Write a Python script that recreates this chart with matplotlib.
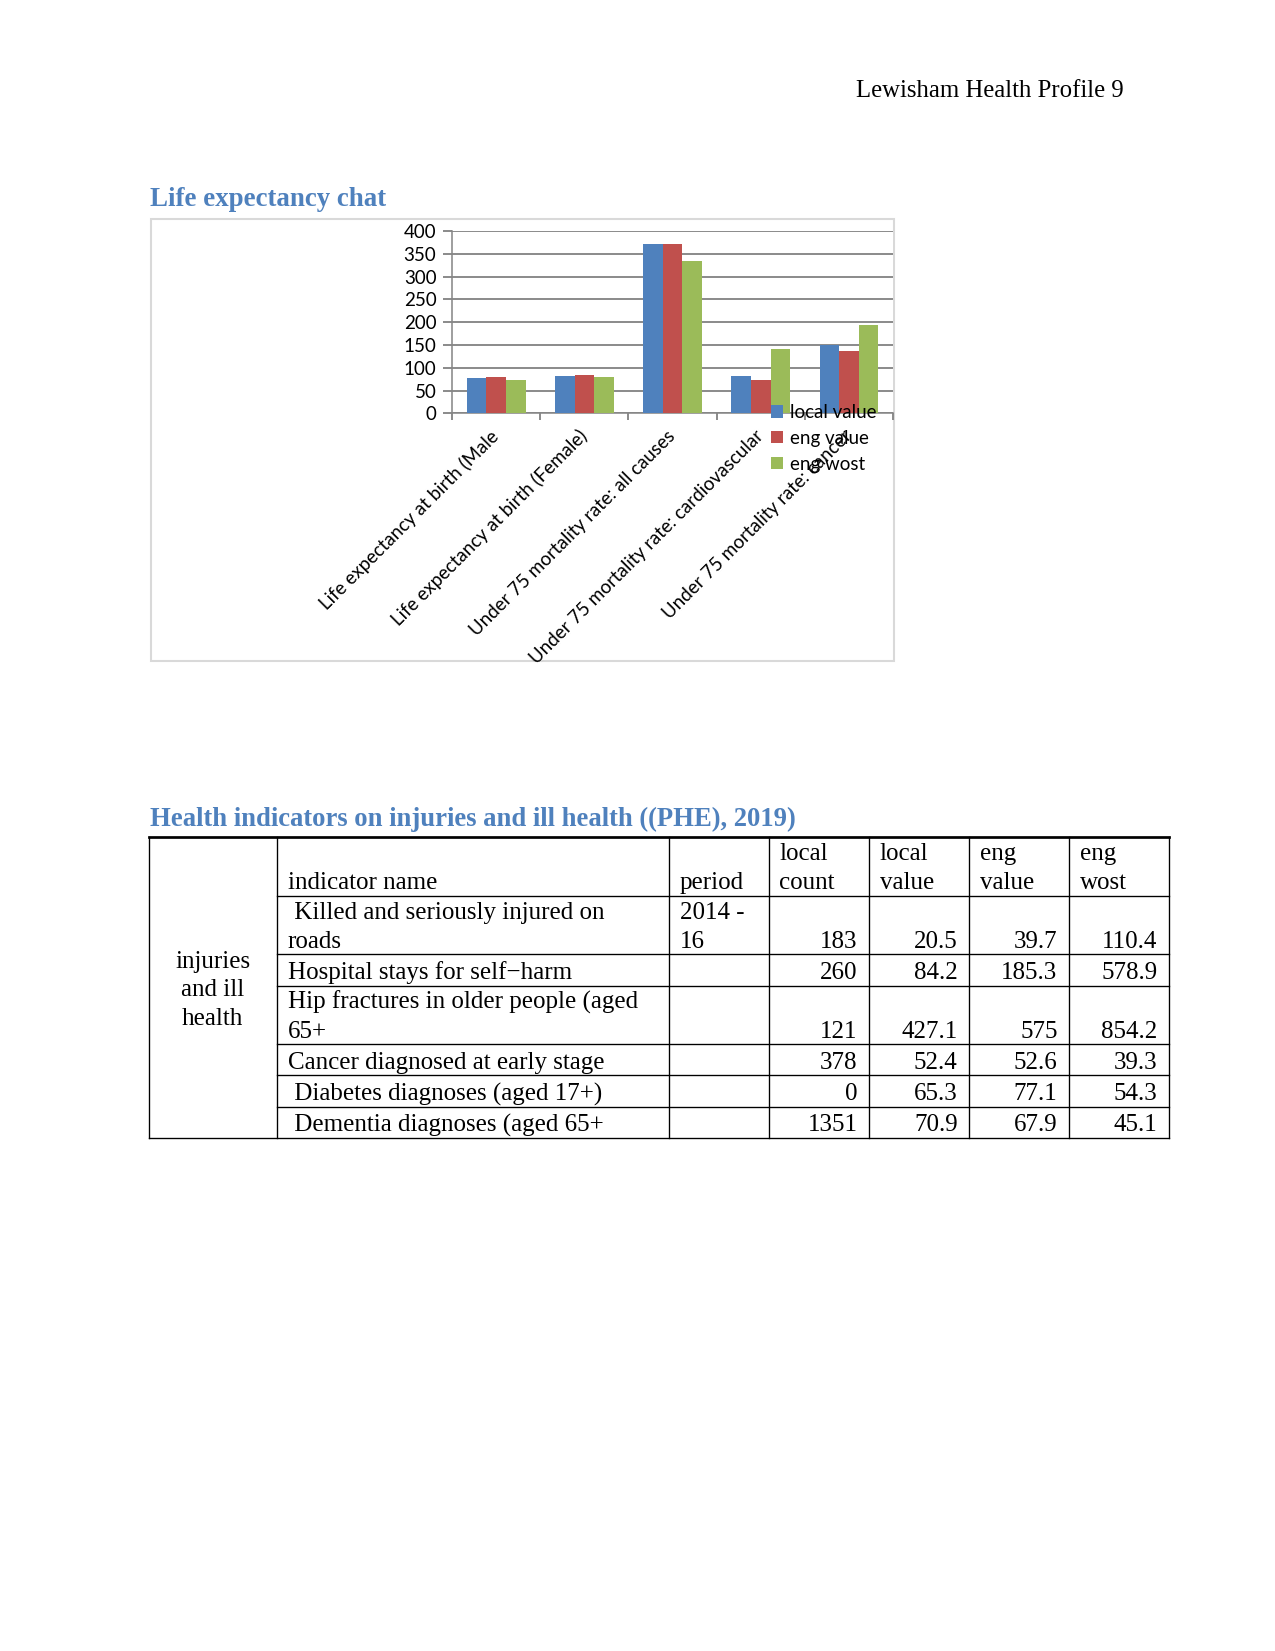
import matplotlib.pyplot as plt
from matplotlib.patches import Rectangle

# chart data
categories = ["Life expectancy at birth (Male",
              "Life expectancy at birth (Female)",
              "Under 75 mortality rate: all causes",
              "Under 75 mortality rate: cardiovascular",
              "Under 75 mortality rate: cancer"]
local_value = [78.1, 82.7, 372, 82, 149]
eng_value = [80.3, 83.1, 372, 74, 137]
eng_wost = [73.7, 78.8, 334, 141, 194]
series_names = ["local value", "eng value", "eng wost"]
series_colors = ["#4F81BD", "#C0504D", "#9BBB59"]

# table data
group_label = "injuries\nand ill\nhealth"
header = ["indicator name", "period", "local\ncount", "local\nvalue", "eng\nvalue", "eng\nwost"]
indicator = [" Killed and seriously injured on\nroads",
             "Hospital stays for self\u2212harm",
             "Hip fractures in older people (aged\n65+",
             "Cancer diagnosed at early stage",
             " Diabetes diagnoses (aged 17+)",
             " Dementia diagnoses (aged 65+"]
period = ["2014 -\n16", "", "", "", "", ""]
local_count = [183, 260, 121, 378, 0, 1351]
local_val = [20.5, 84.2, 427.1, 52.4, 65.3, 70.9]
eng_val = [39.7, 185.3, 575, 52.6, 77.1, 67.9]
eng_worst = [110.4, 578.9, 854.2, 39.3, 54.3, 45.1]

W, H = 1275, 1651
fig = plt.figure(figsize=(W / 150, H / 150), dpi=150)
pg = fig.add_axes([0, 0, 1, 1])
pg.set_xlim(0, W)
pg.set_ylim(H, 0)
pg.axis('off')

serif = 'Liberation Serif'
blue = '#4F81BD'

pg.text(1124, 91, "Lewisham Health Profile 9", family=serif, fontsize=11.9, ha='right', va='center')
pg.text(150, 200, "Life expectancy chat", family=serif, fontsize=12.9, weight='bold', color=blue, va='center')
pg.text(150, 819, "Health indicators on injuries and ill health ((PHE), 2019)", family=serif,
        fontsize=12.75, weight='bold', color=blue, va='center')

# chart frame
pg.add_patch(Rectangle((150.5, 219), 743.5, 442, fill=False, ec='#d9d9d9', lw=1.0))

# bar chart
ax = fig.add_axes([452 / W, 1 - 413.3 / H, (893 - 452) / W, (413.3 - 231) / H])
font = 'Lato'
x = list(range(len(categories)))
bw = 1 / 4.5
for k, vals in enumerate([local_value, eng_value, eng_wost]):
    ax.bar([i + (k - 1) * bw for i in x], vals, width=bw, color=series_colors[k],
           label=series_names[k], zorder=3)
ax.set_xlim(-0.5, len(categories) - 0.5)
ax.set_ylim(0, 400)
ax.set_yticks(range(0, 401, 50))
ax.yaxis.grid(True, color='#868686', lw=0.9, zorder=0)
for s in ['top', 'right']:
    ax.spines[s].set_visible(False)
for s in ['left', 'bottom']:
    ax.spines[s].set_color('#868686')
    ax.spines[s].set_linewidth(0.75)
ax.tick_params(axis='y', length=4.5, color='#868686', width=0.9, pad=3, labelsize=9)
ax.set_xticks(x)
ax.set_xticklabels(categories, rotation=45, ha='right', va='center', rotation_mode='anchor',
                   fontsize=9, family=font)
ax.set_xticks([i - 0.5 for i in range(len(categories) + 1)], minor=True)
ax.tick_params(axis='x', which='major', length=0, pad=9.5)
ax.tick_params(axis='x', which='minor', length=3.5, color='#868686', width=0.9)
for t in ax.get_yticklabels():
    t.set_family(font)

fig.legend(loc='upper left', bbox_to_anchor=(771 / W, 1 - 404 / H), frameon=False,
           prop={'family': font, 'size': 9}, borderpad=0, borderaxespad=0,
           handlelength=0.64, handleheight=0.64, handletextpad=0.36, labelspacing=0.47)

# table
col_x = [148.5, 276.9, 668.5, 768.5, 868.6, 968.6, 1068.6, 1168.6]
top = 837
line_h = 27.3


def row_height(cells):
    n = max(c.count("\n") + 1 for c in cells)
    return 4 + line_h * n


rows = [header]
for i in range(len(indicator)):
    rows.append([indicator[i], period[i], f"{local_count[i]:g}", f"{local_val[i]:g}",
                 f"{eng_val[i]:g}", f"{eng_worst[i]:g}"])

y = top
row_edges = [y]
for r in rows:
    y += row_height(r)
    row_edges.append(y)
bottom = row_edges[-1]

lw = 0.65
pg.plot([col_x[0], col_x[-1]], [top, top], color='black', lw=1.3)
pg.plot([col_x[0], col_x[-1]], [bottom, bottom], color='black', lw=lw)
for cx in col_x:
    pg.plot([cx, cx], [top, bottom], color='black', lw=lw)
for ry in row_edges[1:-1]:
    pg.plot([col_x[1], col_x[-1]], [ry, ry], color='black', lw=lw)

pg.text((col_x[0] + col_x[1]) / 2, (top + bottom) / 2 + 3, group_label, family=serif, fontsize=12,
        ha='center', va='center', linespacing=1.4)

for ri, r in enumerate(rows):
    yb = row_edges[ri + 1] - 6.5
    for ci, txt in enumerate(r):
        if ri == 0 or ci < 2:
            pg.text(col_x[ci + 1] + 11, yb, txt, family=serif, fontsize=12, ha='left',
                    va='baseline', linespacing=1.4)
        else:
            pg.text(col_x[ci + 2] - 11, yb, txt, family=serif, fontsize=12, ha='right',
                    va='baseline', linespacing=1.4)

fig.savefig('out.png', dpi=150)
